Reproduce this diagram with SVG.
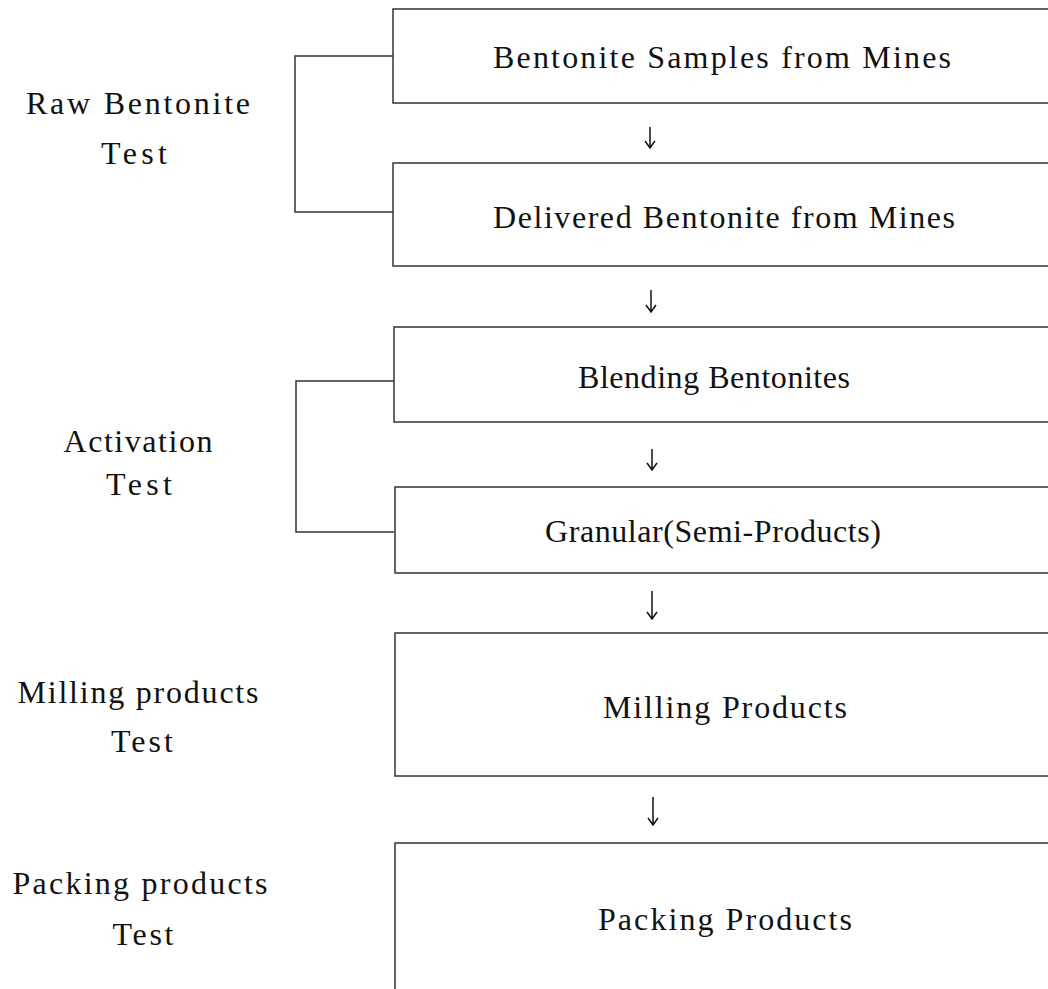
<svg xmlns="http://www.w3.org/2000/svg" width="1048" height="989" viewBox="0 0 1048 989">
<style>
.box{fill:#fff;stroke:#333;stroke-width:1.5}
.ln{fill:none;stroke:#333;stroke-width:1.5}
.ar{fill:none;stroke:#111;stroke-width:1.5}
text{font-family:"Liberation Serif","Times New Roman",serif;font-size:32px;fill:#111}
.m{text-anchor:middle}
</style>
<rect width="1048" height="989" fill="#fff"/>
<g id="connectors">
<path class="ln" d="M393 56 H295 V212 H393"/>
<path class="ln" d="M394 381 H296 V532 H394"/>
<path class="ar" d="M650 127 V148 M645 141 L650 148 L655 141"/>
<path class="ar" d="M651 290 V312 M646 305 L651 312 L656 305"/>
<path class="ar" d="M652 449 V470 M647 463 L652 470 L657 463"/>
<path class="ar" d="M652 591 V619 M647 612 L652 619 L657 612"/>
<path class="ar" d="M653 797 V825 M648 818 L653 825 L658 818"/>
</g>
<g id="label-raw">
<text class="m" x="138" y="114" textLength="224" lengthAdjust="spacing">Raw Bentonite</text>
<text class="m" x="134" y="164" textLength="66" lengthAdjust="spacing">Test</text>
</g>
<g id="label-activation">
<text class="m" x="138" y="452" textLength="149" lengthAdjust="spacing">Activation</text>
<text class="m" x="139" y="495" textLength="66" lengthAdjust="spacing">Test</text>
</g>
<g id="label-milling">
<text class="m" x="138" y="703" textLength="241" lengthAdjust="spacing">Milling products</text>
<text class="m" x="142" y="752" textLength="62" lengthAdjust="spacing">Test</text>
</g>
<g id="label-packing">
<text class="m" x="140" y="894" textLength="255" lengthAdjust="spacing">Packing products</text>
<text class="m" x="143" y="945" textLength="61" lengthAdjust="spacing">Test</text>
</g>
<g id="node-samples">
<rect class="box" x="393" y="9" width="680" height="94"/>
<text x="493" y="68" textLength="458" lengthAdjust="spacing">Bentonite Samples from Mines</text>
</g>
<g id="node-delivered">
<rect class="box" x="393" y="163" width="680" height="103"/>
<text x="493" y="228" textLength="462" lengthAdjust="spacing">Delivered Bentonite from Mines</text>
</g>
<g id="node-blending">
<rect class="box" x="394" y="327" width="680" height="95"/>
<text x="578" y="388" textLength="272" lengthAdjust="spacing">Blending Bentonites</text>
</g>
<g id="node-granular">
<rect class="box" x="395" y="487" width="680" height="86"/>
<text x="545" y="542" textLength="336" lengthAdjust="spacing">Granular(Semi-Products)</text>
</g>
<g id="node-milling">
<rect class="box" x="395" y="633" width="680" height="143"/>
<text x="603" y="718" textLength="244" lengthAdjust="spacing">Milling Products</text>
</g>
<g id="node-packing">
<rect class="box" x="395" y="843" width="680" height="200"/>
<text x="598" y="930" textLength="254" lengthAdjust="spacing">Packing Products</text>
</g>
</svg>
